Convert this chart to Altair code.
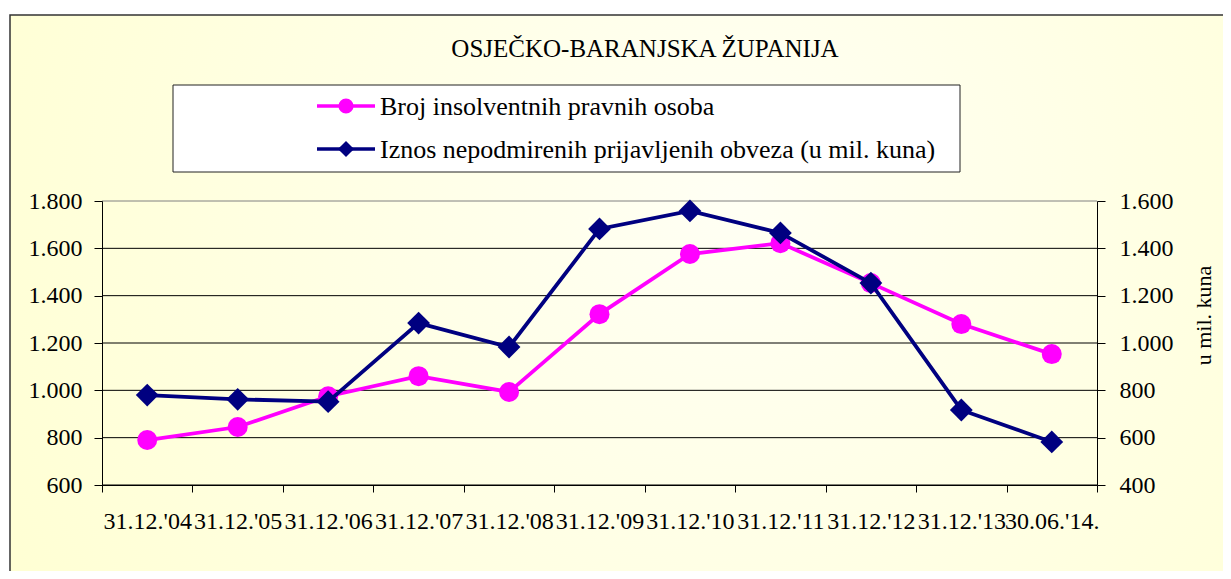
import altair as alt
import pandas as pd

categories = ["31.12.'04", "31.12.'05", "31.12.'06", "31.12.'07", "31.12.'08",
              "31.12.'09", "31.12.'10", "31.12.'11", "31.12.'12", "31.12.'13", "30.06.'14."]
broj = [790, 845, 975, 1060, 993, 1322, 1576, 1622, 1453, 1280, 1153]
iznos = [780, 762, 752, 1084, 983, 1482, 1558, 1465, 1253, 717, 582]

title_text = "OSJEČKO-BARANJSKA ŽUPANIJA"
legend_labels = ["Broj insolventnih pravnih osoba",
                 "Iznos nepodmirenih prijavljenih obveza (u mil. kuna)"]
right_title = "u mil. kuna"
left_ticks = [600, 800, 1000, 1200, 1400, 1600, 1800]
right_ticks = [400, 600, 800, 1000, 1200, 1400, 1600]

PINK = "#FF00FF"
NAVY = "#000080"
FONT = "Liberation Serif"

df = pd.DataFrame({"cat": categories, "broj": broj, "iznos": iznos})
grid_df = pd.DataFrame({"broj": left_ticks})
one = pd.DataFrame({"k": [0]})

label_expr = "replace(format(datum.value, ','), ',', '.')"

xenc = alt.X("cat:N", sort=categories,
             scale=alt.Scale(type="band", paddingInner=0, paddingOuter=0),
             axis=alt.Axis(title=None, labelAngle=0, tickBand="extent", tickSize=7,
                           labelPadding=17, labelFontSize=24, labelFont=FONT,
                           labelColor="#000", labelOverlap=False, grid=False,
                           domainColor="#000", tickColor="#000", labelLimit=300,
                           zindex=1))

left_scale = alt.Scale(domain=[600, 1800], nice=False, zero=False)
left_axis = alt.Axis(orient="left", values=left_ticks, labelExpr=label_expr,
                     grid=False, tickSize=8, zindex=1,
                     labelPadding=12, title=None, domainColor="#000",
                     tickColor="#000", labelFontSize=24, labelFont=FONT,
                     labelColor="#000")

# background frame
bg = alt.Chart(one).mark_rect(
    fill=alt.RadialGradient(
        gradient="radial",
        stops=[alt.GradientStop(offset=0, color="#FFFFF4"),
               alt.GradientStop(offset=1, color="#FFFFCC")],
        x1=0.52, y1=0.35, r1=0, x2=0.52, y2=0.35, r2=0.72),
    stroke="#333333", strokeWidth=1.5
).encode(x=alt.value(-92), x2=alt.value(1300), y=alt.value(-186), y2=alt.value(600))

title = alt.Chart(one).mark_text(
    text=title_text, font=FONT, fontSize=25, color="#000", align="center", baseline="middle"
).encode(x=alt.value(543), y=alt.value(-152))

# legend
leg_box = alt.Chart(one).mark_rect(fill="white", stroke="#222", strokeWidth=1).encode(
    x=alt.value(71), x2=alt.value(858), y=alt.value(-116), y2=alt.value(-29))

leg_layers = []
for i, (lab, col, shp, sz) in enumerate(zip(legend_labels, [PINK, NAVY],
                                            ["circle", "diamond"], [230, 260])):
    yy = -95 + i * 43
    leg_layers.append(alt.Chart(one).mark_rule(color=col, strokeWidth=3.5).encode(
        x=alt.value(215), x2=alt.value(273), y=alt.value(yy)))
    leg_layers.append(alt.Chart(one).mark_point(shape=shp, filled=True, size=sz,
                                                color=col, opacity=1).encode(
        x=alt.value(244), y=alt.value(yy)))
    leg_layers.append(alt.Chart(one).mark_text(text=lab, font=FONT, fontSize=26,
                                               color="#000", align="left",
                                               baseline="middle").encode(
        x=alt.value(278), y=alt.value(yy + 1)))

grid_rules = alt.Chart(grid_df).mark_rule(strokeWidth=1).encode(
    y=alt.Y("broj:Q", scale=left_scale, axis=left_axis),
    color=alt.condition("datum.broj == 1800", alt.value("#808080"), alt.value("#000000")),
)

pink = alt.Chart(df).mark_line(
    color=PINK, strokeWidth=3.8,
    point=alt.OverlayMarkDef(shape="circle", size=400, filled=True, color=PINK, opacity=1)
).encode(
    x=xenc,
    y=alt.Y("broj:Q", scale=left_scale, axis=left_axis)
)

navy = alt.Chart(df).mark_line(
    color=NAVY, strokeWidth=3.8,
    point=alt.OverlayMarkDef(shape="diamond", size=520, filled=True, color=NAVY, opacity=1)
).encode(
    x=xenc,
    y=alt.Y("iznos:Q", scale=alt.Scale(domain=[400, 1600], nice=False, zero=False),
            axis=alt.Axis(orient="right", values=right_ticks, labelExpr=label_expr,
                          grid=False, tickSize=8, labelPadding=14, zindex=1,
                          title=right_title, titleAngle=270, titleX=113, titleY=114,
                          titleAlign="center", titleBaseline="alphabetic",
                          titleFont=FONT, titleFontSize=22, titleFontWeight="normal",
                          titleColor="#000", domainColor="#000", tickColor="#000",
                          labelFontSize=24, labelFont=FONT, labelColor="#000"))
)

pink_group = alt.layer(grid_rules, pink)

chart = alt.layer(bg, title, leg_box, *leg_layers, pink_group, navy).resolve_scale(
    y="independent"
).properties(
    width=995, height=284,
    autosize=alt.AutoSizeParams(type="none"),
    padding={"left": 94, "top": 193, "right": 126, "bottom": 86},
).configure_view(stroke=None)

chart.save("out.html", embed_options={"renderer": "svg", "actions": False})
